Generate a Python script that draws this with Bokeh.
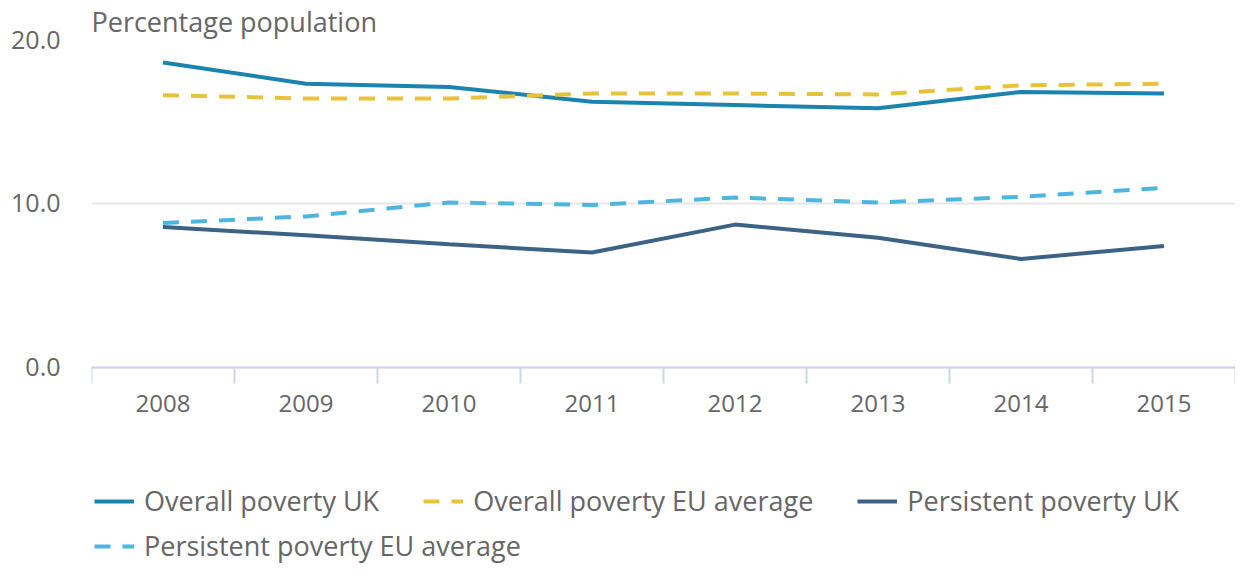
from bokeh.plotting import figure
from bokeh.models import Range1d, FixedTicker, Legend, LegendItem, NumeralTickFormatter
from bokeh.embed import file_html
from bokeh.resources import INLINE

years = ["2008", "2009", "2010", "2011", "2012", "2013", "2014", "2015"]
overall_uk = [18.6, 17.3, 17.1, 16.2, 16.0, 15.8, 16.8, 16.7]
overall_eu = [16.6, 16.4, 16.4, 16.7, 16.7, 16.65, 17.2, 17.3]
persistent_uk = [8.55, 8.05, 7.5, 7.0, 8.7, 7.9, 6.6, 7.4]
persistent_eu = [8.8, 9.2, 10.05, 9.9, 10.35, 10.05, 10.4, 10.95]

FONT = "Open Sans"
TEXT = "#666666"
C_UK = "#1a84ae"
C_EU = "#e8c33a"
C_PUK = "#3c6285"
C_PEU = "#4cb6e0"

x = list(range(len(years)))

# frame extends below the x axis to hold the legend rows
p = figure(width=1235, height=564, output_backend="svg", toolbar_location=None,
           x_range=Range1d(-0.5, len(years) - 0.5), y_range=Range1d(-12.05, 20),
           min_border_left=91, min_border_right=0, min_border_top=0, min_border_bottom=0)
p.outline_line_color = None
p.background_fill_color = "white"

p.title.text = "Percentage population"
p.title.text_font = FONT
p.title.text_font_size = "27px"
p.title.text_font_style = "normal"
p.title.text_color = TEXT
p.title.align = "left"
p.title.standoff = 0

r1 = p.line(x, overall_uk, line_color=C_UK, line_width=4)
r2 = p.line(x, overall_eu, line_color=C_EU, line_width=4, line_dash="16 12")
r3 = p.line(x, persistent_uk, line_color=C_PUK, line_width=4)
r4 = p.line(x, persistent_eu, line_color=C_PEU, line_width=4, line_dash="16 12")

# y axis
p.yaxis.ticker = FixedTicker(ticks=[0, 10, 20])
p.yaxis.formatter = NumeralTickFormatter(format="0.0")
p.yaxis.axis_line_color = None
p.yaxis.major_tick_line_color = None
p.yaxis.minor_tick_line_color = None
p.yaxis.major_tick_out = 0
p.yaxis.major_tick_in = 0
p.yaxis.major_label_standoff = 31
p.yaxis.major_label_text_font = FONT
p.yaxis.major_label_text_font_size = "25px"
p.yaxis.major_label_text_color = TEXT
p.ygrid.grid_line_color = "#e6e6e6"
p.ygrid.grid_line_width = 2
p.xgrid.visible = False

# x axis, pinned at y = 0
p.xaxis.fixed_location = 0
p.xaxis.ticker = FixedTicker(ticks=x, minor_ticks=[i - 0.5 for i in range(len(years) + 1)])
p.xaxis.major_label_overrides = dict(zip(x, years))
p.xaxis.axis_line_color = "#ccd6eb"
p.xaxis.axis_line_width = 2
p.xaxis.major_tick_line_color = None
p.xaxis.major_tick_out = 16
p.xaxis.major_tick_in = 0
p.xaxis.minor_tick_line_color = "#ccd6eb"
p.xaxis.minor_tick_line_width = 2
p.xaxis.minor_tick_out = 16
p.xaxis.minor_tick_in = 0
p.xaxis.major_label_standoff = 12
p.xaxis.major_label_text_font = FONT
p.xaxis.major_label_text_font_size = "24px"
p.xaxis.major_label_text_color = TEXT

common = dict(orientation="horizontal", padding=0, spacing=44, label_standoff=10,
              glyph_width=40, glyph_height=30, label_height=30, margin=0,
              label_text_font=FONT, label_text_font_size="27px", label_text_color=TEXT,
              border_line_color=None, background_fill_alpha=0)

leg1 = Legend(items=[LegendItem(label="Overall poverty UK", renderers=[r1]),
                     LegendItem(label="Overall poverty EU average", renderers=[r2]),
                     LegendItem(label="Persistent poverty UK", renderers=[r3])],
              location=(3, 45), **common)
leg2 = Legend(items=[LegendItem(label="Persistent poverty EU average", renderers=[r4])],
              location=(3, 0), **common)
p.add_layout(leg1)
p.add_layout(leg2)

open("out.html", "w").write(file_html(p, INLINE))
